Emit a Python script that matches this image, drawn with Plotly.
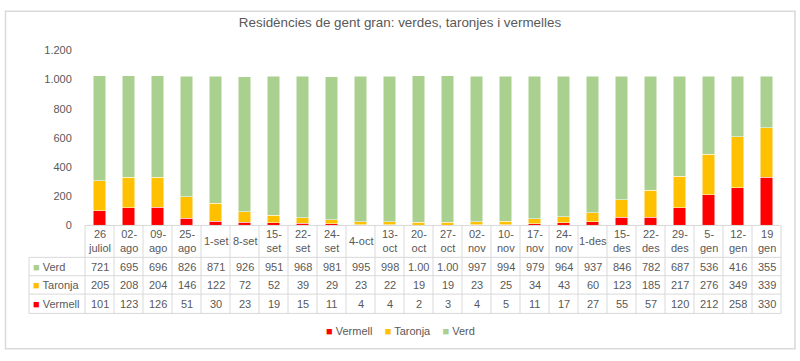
import plotly.graph_objects as go

categories = ["26<br>juliol", "02-<br>ago", "09-<br>ago", "25-<br>ago", "1-set", "8-set",
              "15-<br>set", "22-<br>set", "24-<br>set", "4-oct", "13-<br>oct", "20-<br>oct",
              "27-<br>oct", "02-<br>nov", "10-<br>nov", "17-<br>nov", "24-<br>nov", "1-des",
              "15-<br>des", "22-<br>des", "29-<br>des", "5-<br>gen", "12-<br>gen", "19<br>gen"]
verd = [721, 695, 696, 826, 871, 926, 951, 968, 981, 995, 998, 1004, 1003, 997, 994, 979,
        964, 937, 846, 782, 687, 536, 416, 355]
taronja = [205, 208, 204, 146, 122, 72, 52, 39, 29, 23, 22, 19, 19, 23, 25, 34, 43, 60,
           123, 185, 217, 276, 349, 339]
vermell = [101, 123, 126, 51, 30, 23, 19, 15, 11, 4, 4, 2, 3, 4, 5, 11, 17, 27, 55, 57,
           120, 212, 258, 330]
y_ticks = [0, 200, 400, 600, 800, 1000, 1200]

series_names = ["Vermell", "Taronja", "Verd"]
colors = {"Vermell": "#FF0000", "Taronja": "#FFC000", "Verd": "#A9D08E"}
values = {"Vermell": vermell, "Taronja": taronja, "Verd": verd}

W, H = 800, 361
def px(p):
    return p / W
def py(p):
    return 1 - p / H

FONT = "Liberation Sans"
GREY = "#595959"
LINE = "#D9D9D9"

n = len(categories)
xs = list(range(n))

fig = go.Figure()
for name in series_names:
    fig.add_trace(go.Bar(
        x=xs, y=values[name], name=name,
        marker=dict(color=colors[name], line=dict(color="white", width=0.5)),
        hoverinfo="y+name",
    ))

shapes = []
annotations = []

x_left_pix, x_plot_pix, x_right_pix = 29, 85, 781
y_top, y_h, y_r1, y_r2, y_r3 = 227, 260, 279, 298, 318

# horizontal table lines
shapes.append(dict(type="line", xref="paper", yref="paper", x0=px(x_plot_pix), x1=px(x_right_pix),
                   y0=py(y_top), y1=py(y_top), line=dict(color=LINE, width=1)))
for yy in [y_h, y_r1, y_r2, y_r3]:
    shapes.append(dict(type="line", xref="paper", yref="paper", x0=px(x_left_pix), x1=px(x_right_pix),
                       y0=py(yy), y1=py(yy), line=dict(color=LINE, width=1)))
# vertical lines
for xx, y0 in [(x_left_pix, y_h), (x_plot_pix, y_top), (x_right_pix, y_top)]:
    shapes.append(dict(type="line", xref="paper", yref="paper", x0=px(xx), x1=px(xx),
                       y0=py(y0), y1=py(y_r3), line=dict(color=LINE, width=1)))
for i in range(1, n):
    shapes.append(dict(type="line", xref="x", yref="paper", x0=i - 0.5, x1=i - 0.5,
                       y0=py(y_top), y1=py(y_r3), line=dict(color=LINE, width=1)))
# outer chart border
shapes.append(dict(type="rect", xref="paper", yref="paper", x0=px(5.5), x1=px(795), y0=py(5.5), y1=py(354.5),
                   line=dict(color=LINE, width=1.5)))


def fmt(v):
    s = f"{v:,}".replace(",", ".")
    return s[:4]  # narrow cell clips text as in the original


for i, c in enumerate(categories):
    annotations.append(dict(x=i, y=py((y_top + y_h) / 2), xref="x", yref="paper", text=c,
                            showarrow=False, font=dict(family=FONT, size=11, color=GREY),
                            xanchor="center", yanchor="middle"))

rows = [("Verd", (y_h + y_r1) / 2), ("Taronja", (y_r1 + y_r2) / 2), ("Vermell", (y_r2 + y_r3) / 2)]
for name, yc in rows:
    annotations.append(dict(x=px(x_left_pix + 2), y=py(yc), xref="paper", yref="paper",
                            text=f"<span style='color:{colors[name]}'>■</span> {name}",
                            showarrow=False, font=dict(family=FONT, size=11, color=GREY),
                            xanchor="left", yanchor="middle"))
    for i, v in enumerate(values[name]):
        annotations.append(dict(x=i, y=py(yc), xref="x", yref="paper", text=fmt(v),
                                showarrow=False, font=dict(family=FONT, size=11, color=GREY),
                                xanchor="center", yanchor="middle"))

# legend (drawn as text, Excel style)
legend_text = "&nbsp;&nbsp;&nbsp;&nbsp;".join(
    f"<span style='color:{colors[name]}'>■</span> {name}" for name in series_names)
annotations.append(dict(x=0.5, y=py(336), xref="paper", yref="paper", text=legend_text,
                        showarrow=False, font=dict(family=FONT, size=11, color=GREY),
                        xanchor="center", yanchor="middle"))

fig.update_layout(
    width=W, height=H,
    margin=dict(l=0, r=0, t=0, b=0),
    paper_bgcolor="white", plot_bgcolor="white",
    barmode="stack", bargap=0.58,
    separators=",.",
    showlegend=False,
    title=dict(text="Residències de gent gran: verdes, taronjes i vermelles",
               x=0.5, xanchor="center", y=py(22), yanchor="middle",
               font=dict(family=FONT, size=13.4, color=GREY)),
    xaxis=dict(domain=[px(x_plot_pix), px(x_right_pix)], range=[-0.5, n - 0.5],
               showticklabels=False, showgrid=False, zeroline=False, showline=False, ticks=""),
    yaxis=dict(domain=[py(y_top), py(46)], range=[0, 1200], tickvals=y_ticks, tickformat=",d",
               showgrid=False, zeroline=False, showline=False,
               ticks="outside", ticklen=10, tickcolor="rgba(0,0,0,0)",
               tickfont=dict(family=FONT, size=11, color=GREY)),
    shapes=shapes, annotations=annotations,
)

fig.write_html("out.html", config={"displayModeBar": False},
               post_script="document.body.style.margin='0';document.body.style.overflow='hidden';")
